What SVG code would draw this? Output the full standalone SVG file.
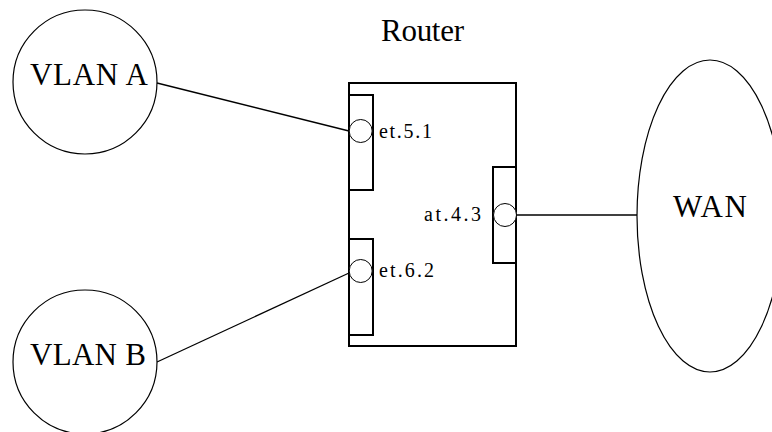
<svg xmlns="http://www.w3.org/2000/svg" width="772" height="432" viewBox="0 0 772 432">
<style>
.big{font-family:'Liberation Serif','Times New Roman','DejaVu Serif',serif;font-size:31px;fill:#000}
.small{font-family:'Liberation Serif','Times New Roman','DejaVu Serif',serif;font-size:20px;fill:#000}
.shape{fill:#fff;stroke:#000;stroke-width:1.2}
.box{fill:none;stroke:#000;stroke-width:2}
.port{fill:#fff;stroke:#000;stroke-width:1}
.conn{stroke:#000;stroke-width:1.3;fill:none}
</style>
<rect width="772" height="432" fill="#fff"/>
<g id="connectors">
<line class="conn" x1="157" y1="83" x2="349" y2="131"/>
<line class="conn" x1="157" y1="362" x2="349" y2="273"/>
<line class="conn" x1="516.5" y1="215" x2="637" y2="215"/>
</g>
<g id="vlan-a">
<circle class="shape" cx="85" cy="82" r="72"/>
<text class="big" x="30" y="85" textLength="118">VLAN A</text>
</g>
<g id="vlan-b">
<circle class="shape" cx="85" cy="362" r="72"/>
<text class="big" x="30" y="365" textLength="116">VLAN B</text>
</g>
<g id="wan">
<ellipse class="shape" cx="710" cy="216" rx="73" ry="156"/>
<text class="big" x="673" y="217" textLength="74">WAN</text>
</g>
<g id="router">
<text class="big" x="381" y="41" textLength="83">Router</text>
<rect class="box" x="349" y="83" width="167" height="263"/>
<rect class="box" x="349" y="95" width="24" height="95"/>
<rect class="box" x="349" y="239" width="24" height="96"/>
<rect class="box" x="493" y="167" width="23" height="96"/>
</g>
<g id="port-et51">
<circle class="port" cx="360.7" cy="131" r="11.5"/>
<text class="small" x="379" y="137.5" textLength="53">et.5.1</text>
</g>
<g id="port-et62">
<circle class="port" cx="360.7" cy="271" r="11.5"/>
<text class="small" x="379" y="277" textLength="55">et.6.2</text>
</g>
<g id="port-at43">
<circle class="port" cx="505" cy="215" r="11.5"/>
<text class="small" x="424" y="221" textLength="57">at.4.3</text>
</g>
</svg>
